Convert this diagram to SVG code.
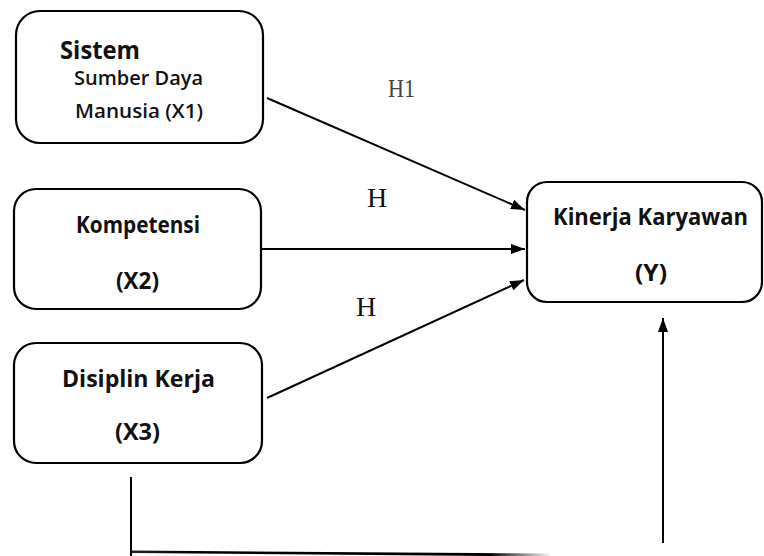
<svg xmlns="http://www.w3.org/2000/svg" width="764" height="556" viewBox="0 0 764 556">
<style>
.box{fill:#fff;stroke:#000;stroke-width:2.2}
.lbl{font-family:"Open Sans","Liberation Sans",sans-serif;font-weight:700;font-size:22.5px;fill:#111;text-anchor:middle}
.sub{font-weight:600;font-size:20.5px}
.h{font-family:"Liberation Serif","Times New Roman",serif;fill:#111}
.conn{stroke:#000;stroke-width:2;fill:none}
</style>
<defs>
<marker id="arr" viewBox="0 0 14 10" refX="14" refY="5" markerWidth="14" markerHeight="10" markerUnits="userSpaceOnUse" orient="auto">
<path d="M0,0 L14,5 L0,10 Z" fill="#000"/>
</marker>
<linearGradient id="fade" x1="133" y1="0" x2="552" y2="0" gradientUnits="userSpaceOnUse">
<stop offset="0" stop-color="#222"/>
<stop offset="0.15" stop-color="#000"/>
<stop offset="0.85" stop-color="#000"/>
<stop offset="1" stop-color="#fff"/>
</linearGradient>
</defs>
<rect width="764" height="556" fill="#fff"/>
<g id="x1">
<rect class="box" x="16" y="11" width="247" height="132" rx="24"/>
<text class="lbl" x="100" y="59" style="font-size:24.5px" textLength="80" lengthAdjust="spacingAndGlyphs">Sistem</text>
<text class="lbl sub" x="138.5" y="85" textLength="129" lengthAdjust="spacingAndGlyphs">Sumber Daya</text>
<text class="lbl sub" x="139" y="118" textLength="128" lengthAdjust="spacingAndGlyphs">Manusia (X1)</text>
</g>
<g id="x2">
<rect class="box" x="14" y="189" width="247" height="120" rx="22"/>
<text class="lbl" x="138" y="233" textLength="124" lengthAdjust="spacingAndGlyphs">Kompetensi</text>
<text class="lbl" x="137.5" y="289" textLength="43" lengthAdjust="spacingAndGlyphs">(X2)</text>
</g>
<g id="x3">
<rect class="box" x="14" y="343" width="248" height="120" rx="22"/>
<text class="lbl" x="138.5" y="387" textLength="153" lengthAdjust="spacingAndGlyphs">Disiplin Kerja</text>
<text class="lbl" x="137.5" y="440" textLength="45" lengthAdjust="spacingAndGlyphs">(X3)</text>
</g>
<g id="y">
<rect class="box" x="527" y="182" width="235" height="120" rx="20"/>
<text class="lbl" x="650.5" y="225" textLength="195" lengthAdjust="spacingAndGlyphs">Kinerja Karyawan</text>
<text class="lbl" x="651" y="281" textLength="32" lengthAdjust="spacingAndGlyphs">(Y)</text>
</g>
<g id="connectors">
<line class="conn" x1="267" y1="98" x2="525" y2="210" marker-end="url(#arr)"/>
<line class="conn" x1="262" y1="249" x2="525" y2="249" marker-end="url(#arr)"/>
<line class="conn" x1="267" y1="398" x2="524" y2="280" marker-end="url(#arr)"/>
<line class="conn" x1="663" y1="543" x2="663" y2="318" marker-end="url(#arr)"/>
<line class="conn" x1="131" y1="477" x2="131" y2="556"/>
<polygon points="132,550.5 550,553.5 550,556.5 132,553" fill="url(#fade)"/>
</g>
<g id="labels">
<text class="h" x="388" y="97" style="font-size:26px;fill:#444" textLength="27" lengthAdjust="spacingAndGlyphs">H1</text>
<text class="h" x="367" y="207" style="font-size:28px">H</text>
<text class="h" x="356" y="316" style="font-size:28px">H</text>
</g>
</svg>
